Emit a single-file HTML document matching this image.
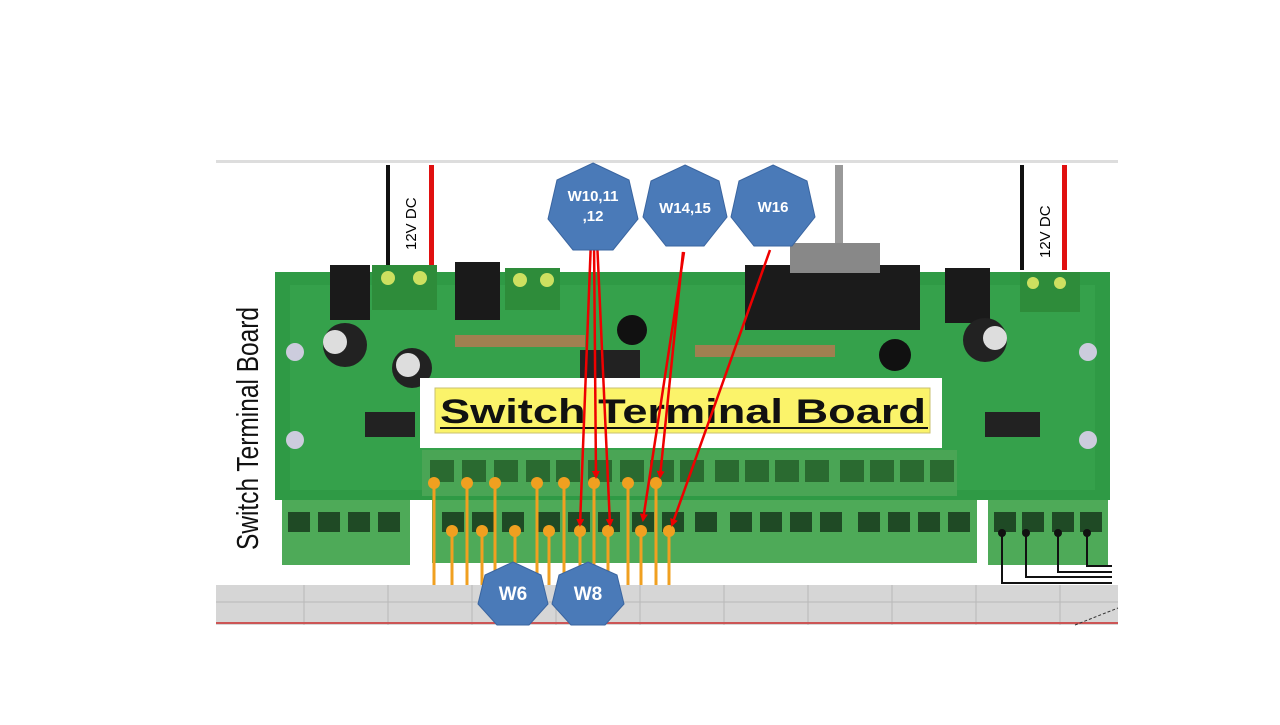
<!DOCTYPE html>
<html><head><meta charset="utf-8"><style>
body{margin:0;width:1280px;height:720px;background:#fff;overflow:hidden;font-family:"Liberation Sans",sans-serif}
</style></head><body>
<svg width="1280" height="720" viewBox="0 0 1280 720" xmlns="http://www.w3.org/2000/svg">
<defs>
<marker id="ar" markerWidth="8" markerHeight="8" refX="6" refY="4" orient="auto" markerUnits="userSpaceOnUse"><path d="M0,0 L8,4 L0,8 z" fill="#e00"/></marker>
</defs>
<rect x="216" y="160" width="902" height="3" fill="#ddd"/>
<rect x="216" y="585" width="902" height="40" fill="#d6d6d6"/>
<g stroke="#b8b8b8" stroke-width="1">
<line x1="216" y1="602" x2="1118" y2="602"/>
<line x1="304" y1="585" x2="304" y2="625"/><line x1="388" y1="585" x2="388" y2="625"/>
<line x1="472" y1="585" x2="472" y2="625"/><line x1="556" y1="585" x2="556" y2="625"/>
<line x1="640" y1="585" x2="640" y2="625"/><line x1="724" y1="585" x2="724" y2="625"/>
<line x1="808" y1="585" x2="808" y2="625"/><line x1="892" y1="585" x2="892" y2="625"/>
<line x1="976" y1="585" x2="976" y2="625"/><line x1="1060" y1="585" x2="1060" y2="625"/>
</g>
<rect x="216" y="622" width="902" height="2" fill="#c55"/>
<rect x="386" y="165" width="4" height="105" fill="#111"/><rect x="429" y="165" width="5" height="105" fill="#e01010"/>
<rect x="1020" y="165" width="4" height="105" fill="#111"/><rect x="1062" y="165" width="5" height="105" fill="#e01010"/>
<rect x="835" y="165" width="8" height="80" fill="#999"/>
<text transform="translate(416,250) rotate(-90)" font-size="15" fill="#000">12V DC</text>
<text transform="translate(1050,258) rotate(-90)" font-size="15" fill="#000">12V DC</text>
<rect x="275" y="272" width="835" height="228" fill="#2f9a45"/>
<rect x="290" y="285" width="805" height="205" fill="#3aa650" opacity=".6"/>
<rect x="330" y="265" width="40" height="55" fill="#1a1a1a"/>
<rect x="455" y="262" width="45" height="58" fill="#1a1a1a"/>
<rect x="945" y="268" width="45" height="55" fill="#1a1a1a"/>
<rect x="372" y="265" width="65" height="45" fill="#2e8c3a"/><circle cx="388" cy="278" r="7" fill="#cde060"/><circle cx="420" cy="278" r="7" fill="#cde060"/>
<rect x="505" y="268" width="55" height="42" fill="#2e8c3a"/><circle cx="520" cy="280" r="7" fill="#cde060"/><circle cx="547" cy="280" r="7" fill="#cde060"/>
<rect x="1020" y="272" width="60" height="40" fill="#2e8c3a"/><circle cx="1033" cy="283" r="6" fill="#cde060"/><circle cx="1060" cy="283" r="6" fill="#cde060"/>
<rect x="745" y="265" width="175" height="65" fill="#1b1b1b"/><rect x="790" y="243" width="90" height="30" fill="#888"/>
<circle cx="345" cy="345" r="22" fill="#222"/><circle cx="335" cy="342" r="12" fill="#ddd"/>
<circle cx="412" cy="368" r="20" fill="#222"/><circle cx="408" cy="365" r="12" fill="#ddd"/>
<circle cx="985" cy="340" r="22" fill="#222"/><circle cx="995" cy="338" r="12" fill="#ddd"/>
<circle cx="632" cy="330" r="15" fill="#111"/><circle cx="895" cy="355" r="16" fill="#111"/>
<rect x="455" y="335" width="130" height="12" fill="#a08050"/><rect x="695" y="345" width="140" height="12" fill="#a08050"/>
<rect x="580" y="350" width="60" height="40" fill="#222"/>
<rect x="985" y="412" width="55" height="25" fill="#222"/><rect x="365" y="412" width="50" height="25" fill="#222"/>
<circle cx="295" cy="352" r="9" fill="#ccd"/><circle cx="295" cy="440" r="9" fill="#ccd"/>
<circle cx="1088" cy="352" r="9" fill="#ccd"/><circle cx="1088" cy="440" r="9" fill="#ccd"/>
<rect x="422" y="450" width="535" height="46" fill="#4aa555"/>
<g fill="#2a6a30">
<rect x="430" y="460" width="24" height="22"/><rect x="462" y="460" width="24" height="22"/><rect x="494" y="460" width="24" height="22"/>
<rect x="526" y="460" width="24" height="22"/><rect x="556" y="460" width="24" height="22"/><rect x="588" y="460" width="24" height="22"/>
<rect x="620" y="460" width="24" height="22"/><rect x="650" y="460" width="24" height="22"/><rect x="680" y="460" width="24" height="22"/>
<rect x="715" y="460" width="24" height="22"/><rect x="745" y="460" width="24" height="22"/><rect x="775" y="460" width="24" height="22"/>
<rect x="805" y="460" width="24" height="22"/><rect x="840" y="460" width="24" height="22"/><rect x="870" y="460" width="24" height="22"/>
<rect x="900" y="460" width="24" height="22"/><rect x="930" y="460" width="24" height="22"/>
</g>
<rect x="282" y="500" width="128" height="65" fill="#4eaa58"/>
<rect x="432" y="500" width="545" height="63" fill="#4eaa58"/>
<rect x="988" y="500" width="120" height="65" fill="#4eaa58"/>
<g fill="#1f4a25">
<rect x="288" y="512" width="22" height="20"/><rect x="318" y="512" width="22" height="20"/><rect x="348" y="512" width="22" height="20"/><rect x="378" y="512" width="22" height="20"/>
<rect x="442" y="512" width="22" height="20"/><rect x="472" y="512" width="22" height="20"/><rect x="502" y="512" width="22" height="20"/>
<rect x="538" y="512" width="22" height="20"/><rect x="568" y="512" width="22" height="20"/><rect x="598" y="512" width="22" height="20"/>
<rect x="632" y="512" width="22" height="20"/><rect x="662" y="512" width="22" height="20"/><rect x="695" y="512" width="22" height="20"/>
<rect x="730" y="512" width="22" height="20"/><rect x="760" y="512" width="22" height="20"/><rect x="790" y="512" width="22" height="20"/><rect x="820" y="512" width="22" height="20"/>
<rect x="858" y="512" width="22" height="20"/><rect x="888" y="512" width="22" height="20"/><rect x="918" y="512" width="22" height="20"/><rect x="948" y="512" width="22" height="20"/>
<rect x="994" y="512" width="22" height="20"/><rect x="1022" y="512" width="22" height="20"/><rect x="1052" y="512" width="22" height="20"/><rect x="1080" y="512" width="22" height="20"/>
</g>
<g stroke="#111" stroke-width="2" fill="none">
<path d="M1002,533 V583 H1112"/><path d="M1026,533 V577 H1112"/><path d="M1058,533 V572 H1112"/><path d="M1087,533 V566 H1112"/>
</g>
<g fill="#111"><circle cx="1002" cy="533" r="4"/><circle cx="1026" cy="533" r="4"/><circle cx="1058" cy="533" r="4"/><circle cx="1087" cy="533" r="4"/></g>
<line x1="1075" y1="625" x2="1118" y2="608" stroke="#333" stroke-dasharray="3,2"/>
<rect x="420" y="378" width="522" height="70" fill="#fff"/>
<rect x="435" y="388" width="495" height="45" fill="#fbf36a" stroke="#c8c070"/>
<text x="440" y="423" font-size="34" font-weight="bold" fill="#111" textLength="486" lengthAdjust="spacingAndGlyphs">Switch Terminal Board</text>
<line x1="440" y1="428" x2="928" y2="428" stroke="#111" stroke-width="2"/>
<text transform="translate(258,550) rotate(-90)" font-size="31" fill="#111" textLength="243" lengthAdjust="spacingAndGlyphs">Switch Terminal Board</text>
<g stroke="#f0a020" stroke-width="3">
<line x1="434" y1="483" x2="434" y2="585"/><line x1="467" y1="483" x2="467" y2="585"/><line x1="495" y1="483" x2="495" y2="585"/><line x1="537" y1="483" x2="537" y2="585"/><line x1="564" y1="483" x2="564" y2="585"/><line x1="594" y1="483" x2="594" y2="585"/><line x1="628" y1="483" x2="628" y2="585"/><line x1="656" y1="483" x2="656" y2="585"/>
<line x1="452" y1="531" x2="452" y2="585"/><line x1="482" y1="531" x2="482" y2="585"/><line x1="515" y1="531" x2="515" y2="585"/><line x1="549" y1="531" x2="549" y2="585"/><line x1="580" y1="531" x2="580" y2="585"/><line x1="608" y1="531" x2="608" y2="585"/><line x1="641" y1="531" x2="641" y2="585"/><line x1="669" y1="531" x2="669" y2="585"/>
</g>
<g fill="#f0a020">
<circle cx="434" cy="483" r="6"/><circle cx="467" cy="483" r="6"/><circle cx="495" cy="483" r="6"/><circle cx="537" cy="483" r="6"/><circle cx="564" cy="483" r="6"/><circle cx="594" cy="483" r="6"/><circle cx="628" cy="483" r="6"/><circle cx="656" cy="483" r="6"/>
<circle cx="452" cy="531" r="6"/><circle cx="482" cy="531" r="6"/><circle cx="515" cy="531" r="6"/><circle cx="549" cy="531" r="6"/><circle cx="580" cy="531" r="6"/><circle cx="608" cy="531" r="6"/><circle cx="641" cy="531" r="6"/><circle cx="669" cy="531" r="6"/>
</g>
<g stroke="#e00" stroke-width="2.5" marker-end="url(#ar)">
<line x1="591" y1="240" x2="580" y2="525"/>
<line x1="594" y1="240" x2="596" y2="477"/>
<line x1="597" y1="240" x2="610" y2="525"/>
<line x1="684" y1="252" x2="643" y2="520"/>
<line x1="683" y1="252" x2="660" y2="477"/>
<line x1="770" y1="250" x2="672" y2="525"/>
</g>
<g fill="#4a7ab8" stroke="#3a65a0">
<polygon points="593,163 629,180 638,219 613,250 573,250 548,219 557,180"/>
<polygon points="685,165 719,181 727,217 704,246 666,246 643,217 651,181"/>
<polygon points="773,165 807,181 815,217 792,246 754,246 731,217 739,181"/>
<polygon points="513,562 541,575 548,604 529,625 497,625 478,604 485,575"/>
<polygon points="588,562 617,575 624,604 605,625 571,625 552,604 559,575"/>
</g>
<g fill="#fff" font-weight="bold" font-size="15" text-anchor="middle">
<text x="593" y="201">W10,11</text><text x="593" y="221">,12</text>
<text x="685" y="213">W14,15</text>
<text x="773" y="212">W16</text>
<text x="513" y="600" font-size="19">W6</text>
<text x="588" y="600" font-size="19">W8</text>
</g>
</svg>
</body></html>
